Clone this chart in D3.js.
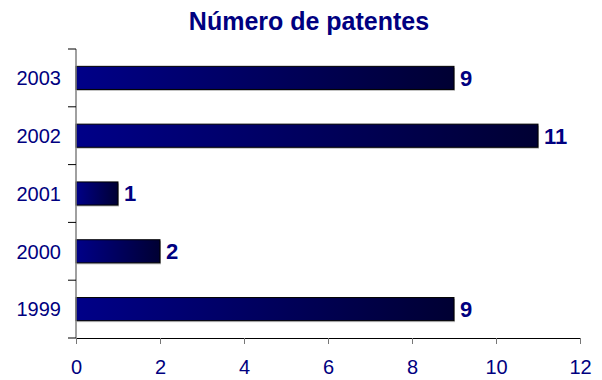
<!DOCTYPE html>
<html><head><meta charset="utf-8">
<script src="https://cdn.jsdelivr.net/npm/d3@7"></script>
<style>body{margin:0;background:#fff}svg{display:block}</style>
</head><body>
<script>
const years = ["1999","2000","2001","2002","2003"];
const patents = [9, 2, 1, 11, 9];
const xTicks = [0, 2, 4, 6, 8, 10, 12];
const title = "Número de patentes";

const W = 602, H = 380;
const FONT = "Arial, 'Liberation Sans', sans-serif";
const svg = d3.select("body").append("svg").attr("width", W).attr("height", H);
const defs = svg.append("defs");
const grad = defs.append("linearGradient").attr("id","g").attr("x1","0").attr("x2","1").attr("y1","0").attr("y2","0");
grad.append("stop").attr("offset","0%").attr("stop-color","#000088");
grad.append("stop").attr("offset","100%").attr("stop-color","#000033");

const x = d3.scaleLinear().domain([0,12]).range([76,580]);
const y = d3.scaleBand().domain(years.slice().reverse()).range([49,338]).paddingInner(0.6).paddingOuter(0.3);

const data = years.map((yr,i)=>({yr, v:patents[i]}));

// shadows
svg.append("g").selectAll("rect").data(data).join("rect")
  .attr("x", x(0)+1).attr("y", d=>y(d.yr)+1.5)
  .attr("width", d=>x(d.v)-x(0)).attr("height", y.bandwidth())
  .attr("fill","#c0c0c0");
svg.append("g").selectAll("rect").data(data).join("rect")
  .attr("x", x(0)).attr("y", d=>y(d.yr))
  .attr("width", d=>x(d.v)-x(0)).attr("height", y.bandwidth())
  .attr("fill","url(#g)").attr("stroke","#000").attr("stroke-width",1);

// x axis
const xa = svg.append("g").attr("transform","translate(0,338)")
  .call(d3.axisBottom(x).tickValues(xTicks).tickSize(6).tickPadding(16).tickSizeOuter(0));
xa.select(".domain").attr("stroke","#000");
xa.selectAll(".tick line").attr("stroke","#777");
xa.selectAll("text").attr("fill","#000080").style("font-family",FONT).style("font-size","20px");

// y axis with ticks at band boundaries
const ya = svg.append("g").attr("transform","translate(76,0)");
ya.append("line").attr("x1",0).attr("x2",0).attr("y1",49).attr("y2",338).attr("stroke","#808080").attr("stroke-width",1.5);
const bounds = d3.range(6).map(i=>49 + i*(338-49)/5);
ya.selectAll(".tk").data(bounds).join("line")
  .attr("x1",-8).attr("x2",0).attr("y1",d=>d).attr("y2",d=>d).attr("stroke","#000");
ya.selectAll(".lbl").data(years).join("text")
  .attr("x",-15).attr("y",d=>y(d)+y.bandwidth()/2).attr("dy","0.36em")
  .attr("text-anchor","end").attr("fill","#000080")
  .style("font-family",FONT).style("font-size","20px")
  .text(d=>d);

// value labels
svg.append("g").selectAll("text").data(data).join("text")
  .attr("x", d=>x(d.v)+6).attr("y", d=>y(d.yr)+y.bandwidth()/2).attr("dy","0.36em")
  .attr("fill","#000080").style("font-family",FONT)
  .style("font-size","22px").style("font-weight","bold").text(d=>d.v);

svg.append("text").attr("x",309).attr("y",30).attr("text-anchor","middle")
  .attr("fill","#000080").style("font-family",FONT)
  .style("font-size","25px").style("font-weight","bold").text(title);
</script>
</body></html>
